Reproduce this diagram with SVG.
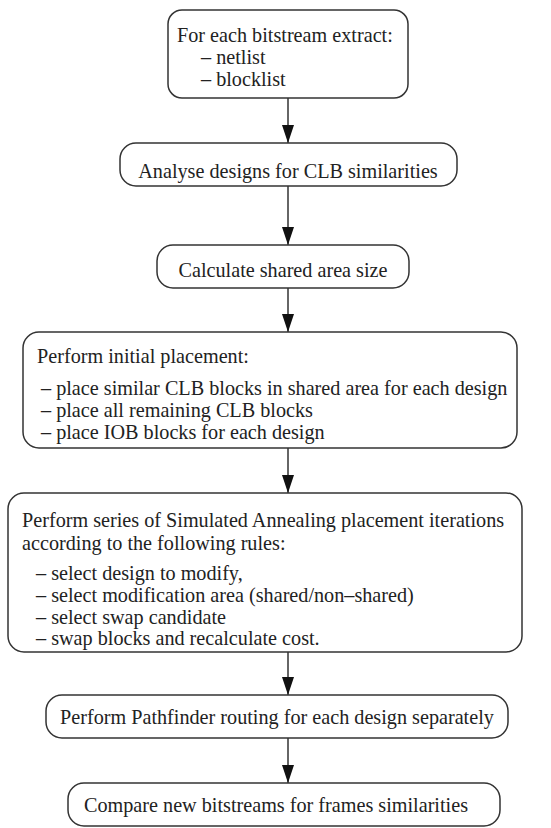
<svg xmlns="http://www.w3.org/2000/svg" width="551" height="828" viewBox="0 0 551 828">
  <style>
    .box { fill: #ffffff; stroke: #333333; stroke-width: 1.5; }
    .lbl { font-family: "Liberation Serif", "Times New Roman", serif; font-size: 20.2px; fill: #222222; }
    .mid { text-anchor: middle; }
    .edge { stroke: #333333; stroke-width: 1.5; fill: none; marker-end: url(#tri); }
  </style>
  <defs>
    <marker id="tri" markerWidth="18" markerHeight="12" refX="18" refY="6" orient="auto" markerUnits="userSpaceOnUse" viewBox="0 0 18 12">
      <path d="M0,0 L18,6 L0,12 Z" fill="#111111"/>
    </marker>
  </defs>

  <rect width="551" height="828" fill="#ffffff"/>

  <!-- connectors between steps -->
  <g id="connectors">
    <line class="edge" x1="288" y1="98" x2="288" y2="143"/>
    <line class="edge" x1="288" y1="186" x2="288" y2="245"/>
    <line class="edge" x1="288" y1="288" x2="288" y2="332"/>
    <line class="edge" x1="288" y1="448" x2="288" y2="493"/>
    <line class="edge" x1="288" y1="652" x2="288" y2="695"/>
    <line class="edge" x1="288" y1="738" x2="288" y2="783"/>
  </g>

  <g id="extract">
    <rect class="box" x="168" y="10" width="240" height="88" rx="14"/>
    <text class="lbl" x="177" y="42">For each bitstream extract:</text>
    <text class="lbl" x="201" y="64">– netlist</text>
    <text class="lbl" x="201" y="86">– blocklist</text>
  </g>

  <g id="analyse">
    <rect class="box" x="120" y="143" width="337" height="43" rx="16"/>
    <text class="lbl mid" x="288" y="178">Analyse designs for CLB similarities</text>
  </g>

  <g id="shared-area">
    <rect class="box" x="157" y="245" width="252" height="43" rx="16"/>
    <text class="lbl mid" x="283" y="277">Calculate shared area size</text>
  </g>

  <g id="initial-placement">
    <rect class="box" x="23" y="332" width="494" height="116" rx="16"/>
    <text class="lbl" x="37" y="363">Perform initial placement:</text>
    <text class="lbl" x="41" y="395">– place similar CLB blocks in shared area for each design</text>
    <text class="lbl" x="41" y="417">– place all remaining CLB blocks</text>
    <text class="lbl" x="41" y="439">– place IOB blocks for each design</text>
  </g>

  <g id="annealing">
    <rect class="box" x="8" y="493" width="514" height="159" rx="16"/>
    <text class="lbl" x="22" y="527">Perform series of Simulated Annealing placement iterations</text>
    <text class="lbl" x="22" y="550">according to the following rules:</text>
    <text class="lbl" x="36" y="580">– select design to modify,</text>
    <text class="lbl" x="36" y="602">– select modification area (shared/non–shared)</text>
    <text class="lbl" x="36" y="624">– select swap candidate</text>
    <text class="lbl" x="36" y="645">– swap blocks and recalculate cost.</text>
  </g>

  <g id="routing">
    <rect class="box" x="46" y="695" width="462" height="43" rx="16"/>
    <text class="lbl" x="60" y="724">Perform Pathfinder routing for each design separately</text>
  </g>

  <g id="compare">
    <rect class="box" x="68" y="783" width="432" height="43" rx="16"/>
    <text class="lbl" x="84" y="812">Compare new bitstreams for frames similarities</text>
  </g>
</svg>
